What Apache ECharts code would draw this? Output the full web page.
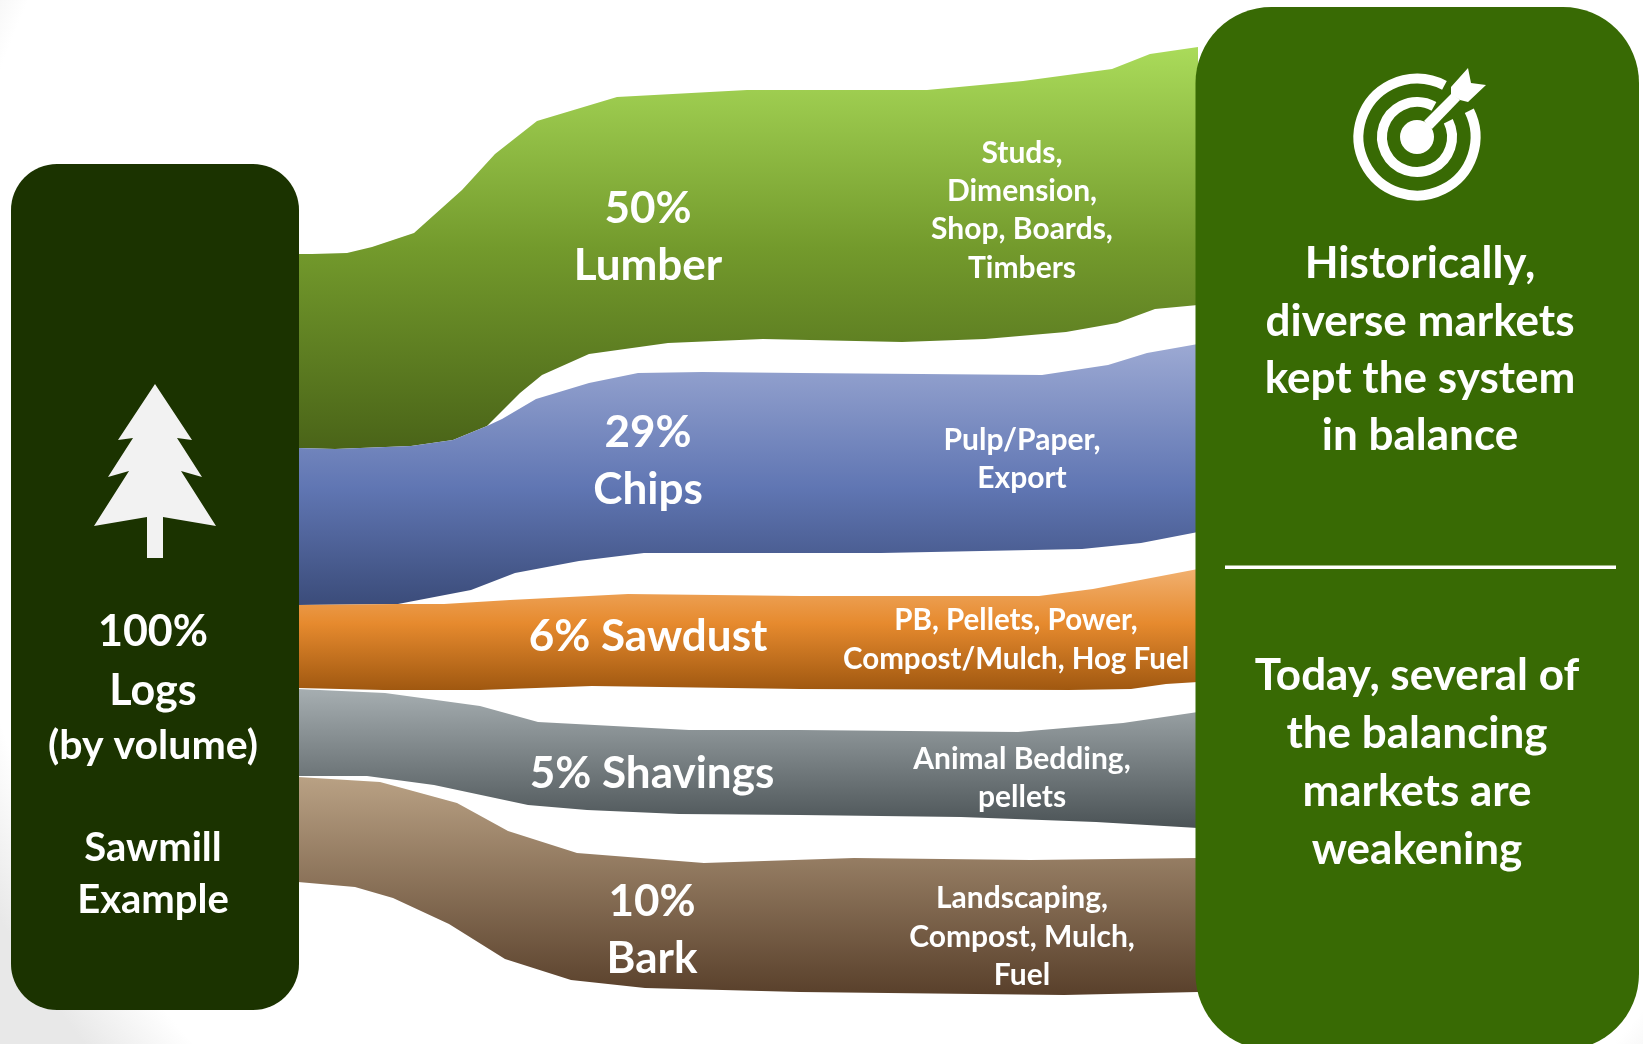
<!DOCTYPE html>
<html><head><meta charset="utf-8">
<style>html,body{margin:0;padding:0;background:#fff;overflow:hidden}#c{width:1643px;height:1044px}</style>
<script src="https://cdn.jsdelivr.net/npm/echarts@6/dist/echarts.min.js"></script>
</head><body><div id="c"></div>
<script>
const lumberTop=[[298,254],[312,254],[347,253],[372,247],[414,233],[462,190],[495,154],[537,121],[617,97],[747,90],[927,90],[1023,81],[1112,69],[1150,54],[1198,47]];
const lumberBottom=[[298,448],[335,449],[411,446],[453,440],[487,426],[520,393],[542,375],[589,354],[668,343],[763,339],[902,342],[985,339],[1066,332],[1117,323],[1155,309],[1198,305]];
const chipsTop=[[298,448],[335,449],[411,446],[453,440],[487,426],[502,419],[536,399],[589,383],[638,373],[702,372],[800,373],[1042,375],[1108,365],[1147,353],[1198,344]];
const chipsBottom=[[298,605],[398,604],[471,590],[515,573],[579,561],[644,553],[881,553],[1082,549],[1141,543],[1198,532]];
const sawdustTop=[[298,605],[398,604],[444,604],[510,600],[628,594],[800,596],[1039,596],[1093,589],[1198,569]];
const sawdustBottom=[[298,688],[383,690],[480,690],[592,686],[800,689],[1069,690],[1131,689],[1166,684],[1198,682]];
const shavingsTop=[[298,689],[385,693],[480,706],[538,722],[689,730],[800,730],[1018,732],[1123,723],[1198,712]];
const shavingsBottom=[[298,776],[367,776],[434,785],[528,805],[587,810],[679,814],[800,815],[961,817],[1096,822],[1198,828]];
const barkTop=[[298,777],[380,782],[457,803],[508,831],[577,853],[704,863],[854,858],[1031,860],[1198,858]];
const barkBottom=[[298,882],[355,887],[393,898],[449,924],[505,959],[571,980],[645,988],[800,992],[1064,995],[1198,992]];
const bandNames=["Lumber","Chips","Sawdust","Shavings","Bark"];
const bandTops=[lumberTop,chipsTop,sawdustTop,shavingsTop,barkTop];
const bandBottoms=[lumberBottom,chipsBottom,sawdustBottom,shavingsBottom,barkBottom];
const bandColors=[
 [[0,'#aadb5a'],[0.5,'#739a2c'],[1,'#4a6418']],
 [[0,'#9ca9d3'],[0.55,'#6076b3'],[1,'#3b4c7a']],
 [[0,'#f1b06f'],[0.45,'#e68a2e'],[1,'#a05810']],
 [[0,'#a6aeb1'],[1,'#4b5356']],
 [[0,'#b9a184'],[1,'#59402b']]
];
const headline=["50%","Lumber","29%","Chips","6% Sawdust","5% Shavings","10%","Bark"];
const products=["Studs,","Dimension,","Shop, Boards,","Timbers","Pulp/Paper,","Export","PB, Pellets, Power,","Compost/Mulch, Hog Fuel","Animal Bedding,","pellets","Landscaping,","Compost, Mulch,","Fuel"];
const sourceText=["100%","Logs","(by volume)","Sawmill","Example"];
const messageText=["Historically,","diverse markets","kept the system","in balance","Today, several of","the balancing","markets are","weakening"];

const font='Lato, Carlito, sans-serif';
const headPos=[[648,209],[648,266],[648,433],[648,490],[648,637],[652,774],[652,902],[652,959]];
const prodPos=[[1022,153],[1022,191],[1022,229],[1022,268],[1022,440],[1022,478],[1016,620],[1016,659],[1022,759],[1022,797],[1022,898],[1022,937],[1022,975]];
const prodSize=[30,30,30,30,30,30,29.5,29.5,30,30,30,30,30];
const srcPos=[[153,632,43],[153,691,43],[153,746,41],[153,848,40],[153,900,40]];
const msgPos=[[1420,264],[1420,322],[1420,379],[1420,436],[1417,676],[1417,734],[1417,792],[1417,850]];

function txt(s,p,size){return {type:'text',z:30,style:{text:s,x:p[0],y:p[1],fill:'#fff',font:'bold '+size+'px '+font,textAlign:'center',textVerticalAlign:'middle'}};}
const treeShape=[[155,384],[192,440],[177,438],[202,477],[181,471],[216,526],[163,517],[163,558],[147,558],[147,517],[94,526],[129,471],[108,477],[133,438],[118,440]];
const w='#ffffff';
const graphics=[
 {type:'rect',z:20,shape:{x:11,y:164,width:288,height:846,r:46},style:{fill:'#1b3300'}},
 {type:'rect',z:20,shape:{x:1195.5,y:7,width:443.5,height:1043,r:76},style:{fill:'#386a04'}},
 {type:'polygon',z:30,shape:{points:treeShape},style:{fill:'#f2f2f2'}},
 {type:'rect',z:30,shape:{x:1225,y:565.5,width:391,height:3.6},style:{fill:w}},
 {type:'arc',z:30,shape:{cx:1417,cy:137,r:58.5,startAngle:-26.6*Math.PI/180,endAngle:-62*Math.PI/180,clockwise:true},style:{fill:null,stroke:w,lineWidth:10}},
 {type:'arc',z:30,shape:{cx:1417,cy:137,r:35,startAngle:-26.6*Math.PI/180,endAngle:-61*Math.PI/180,clockwise:true},style:{fill:null,stroke:w,lineWidth:10}},
 {type:'circle',z:30,shape:{cx:1417,cy:137,r:17},style:{fill:w}},
 {type:'polygon',z:30,shape:{points:[[1424,121],[1452,93],[1460,100],[1432,129]]},style:{fill:w}},
 {type:'polygon',z:30,shape:{points:[[1451,87],[1468,68],[1471,83],[1486,85],[1468,102],[1460,100],[1451,94]]},style:{fill:w}}
];
headline.forEach((s,i)=>graphics.push(txt(s,headPos[i],44)));
products.forEach((s,i)=>graphics.push(txt(s,prodPos[i],prodSize[i])));
sourceText.forEach((s,i)=>graphics.push(txt(s,srcPos[i],srcPos[i][2])));
messageText.forEach((s,i)=>graphics.push(txt(s,msgPos[i],44)));

const chart=echarts.init(document.getElementById('c'),null,{renderer:'canvas'});
chart.setOption({
 animation:false,
 backgroundColor:{type:'radial',x:0.55,y:0.38,r:1,colorStops:[{offset:0,color:'#fff'},{offset:0.92,color:'#fff'},{offset:1,color:'#e8e8e8'}]},
 grid:{left:0,right:0,top:0,bottom:0},
 xAxis:{type:'value',min:0,max:1643,show:false},
 yAxis:{type:'value',min:0,max:1044,inverse:true,show:false},
 tooltip:{show:false},
 series:[{
  type:'custom',z:2,clip:false,silent:true,
  data:bandNames.map((n,i)=>({name:n,value:[i]})),
  encode:{x:0},
  renderItem(params,api){
   const i=params.dataIndex;
   const pts=bandTops[i].concat(bandBottoms[i].slice().reverse()).map(p=>api.coord(p));
   return {type:'polygon',shape:{points:pts},style:{fill:new echarts.graphic.LinearGradient(0,0,0,1,bandColors[i].map(s=>({offset:s[0],color:s[1]})))}};
  }
 }],
 graphic:{elements:graphics}
});
</script></body></html>
